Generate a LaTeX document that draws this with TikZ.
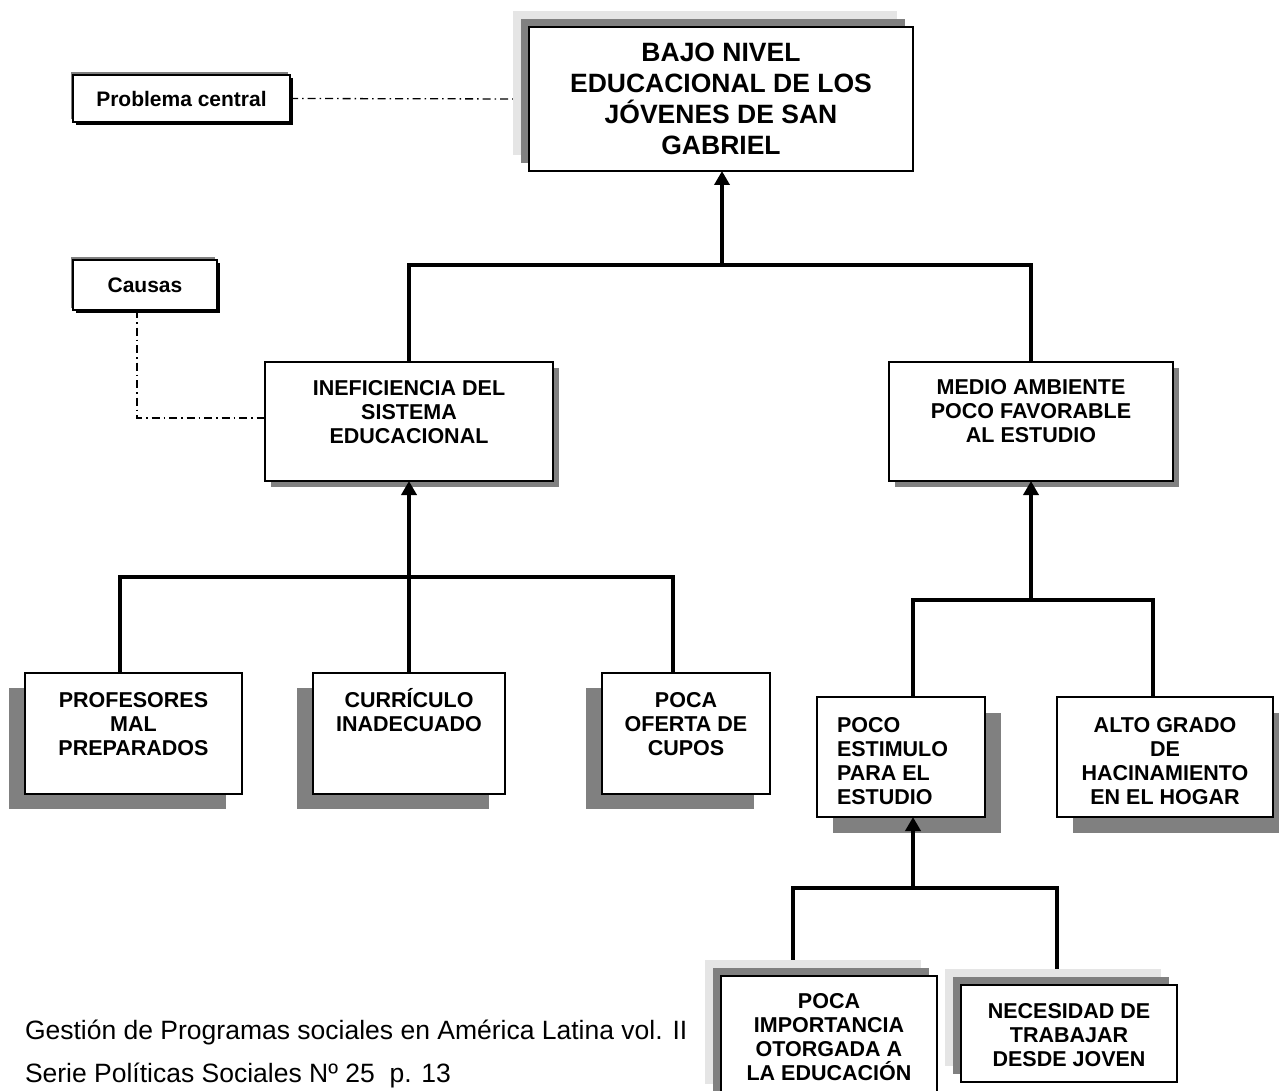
\documentclass[tikz,border=0pt]{standalone}
\usepackage{fontspec}
\setmainfont{Liberation Sans}
\usetikzlibrary{arrows.meta,shadows}
\definecolor{shadegray}{RGB}{128,128,128}
\definecolor{palegray}{RGB}{229,229,229}
\pgfdeclarelayer{back}
\pgfsetlayers{back,main}

\begin{document}
\begin{tikzpicture}[x=1pt,y=-1pt,
  box/.style={draw=black, fill=white, line width=2.4pt, inner sep=0pt, outer sep=0pt},
  tagbox/.style={draw=black, fill=white, line width=2pt, inner sep=0pt, outer sep=0pt,
    font=\fontsize{21}{25}\selectfont\bfseries,
    general shadow={fill=shadegray, shadow xshift=-2.5pt, shadow yshift=2.5pt},
    general shadow={fill=black, shadow xshift=3pt, shadow yshift=-3pt}},
  % shadow stacks used by the different box families
  stacked/.style={general shadow={fill=palegray, shadow xshift=-16pt, shadow yshift=16pt},
    general shadow={fill=shadegray, shadow xshift=-8pt, shadow yshift=8pt}},
  thinshadow/.style={general shadow={fill=shadegray, shadow xshift=5.5pt, shadow yshift=-5.5pt}},
  leftshadow/.style={general shadow={fill=shadegray, shadow xshift=-16pt, shadow yshift=-15pt}},
  rightshadow/.style={general shadow={fill=shadegray, shadow xshift=16pt, shadow yshift=-16pt}},
  ttl/.style={inner sep=0pt, outer sep=0pt, align=center, font=\fontsize{26.5}{31}\selectfont\bfseries},
  txt/.style={inner sep=0pt, outer sep=0pt, align=center, font=\fontsize{21.5}{24}\selectfont\bfseries},
  foot/.style={inner sep=0pt, outer sep=0pt, font=\fontsize{26.5}{31}\selectfont},
  conn/.style={line width=3.5pt},
  arr/.style={line width=3.5pt, -{Triangle[width=15pt,length=14pt]}},
  note/.style={line width=1.3pt, dash pattern=on 8pt off 4pt on 1.5pt off 4pt}
]
\useasboundingbox (0,0) rectangle (1279,1091);

% ---- central problem ----
\node[box, stacked, minimum width=384pt, minimum height=144pt] (t) at (721,99) {};
\node[ttl, anchor=north] (t-txt) at ([yshift=-16pt]t.north)
  {BAJO NIVEL\\EDUCACIONAL DE LOS\\JÓVENES DE SAN\\GABRIEL};

% ---- side tags ----
\node[tagbox, minimum width=217pt, minimum height=47pt] (tag1) at (181.5,98.5) {Problema central};
\node[tagbox, minimum width=144pt, minimum height=50pt] (tag2) at (145,285) {Causas};

% ---- first level causes ----
\node[box, thinshadow, minimum width=288pt, minimum height=119pt] (a) at (409,421.5) {};
\node[txt, anchor=north] (a-txt) at ([yshift=-18pt]a.north)
  {INEFICIENCIA DEL\\SISTEMA\\EDUCACIONAL};
\node[box, thinshadow, minimum width=284pt, minimum height=119pt] (b) at (1031,421.5) {};
\node[txt, anchor=north] (b-txt) at ([yshift=-17pt]b.north)
  {MEDIO AMBIENTE\\POCO FAVORABLE\\AL ESTUDIO};

% ---- causes of the education system ----
\node[box, leftshadow, minimum width=217pt, minimum height=121pt] (a1) at (133.5,733.5) {};
\node[txt, anchor=north] (a1-txt) at ([yshift=-19pt]a1.north)
  {PROFESORES\\MAL\\PREPARADOS};
\node[box, leftshadow, minimum width=192pt, minimum height=121pt] (a2) at (409,733.5) {};
\node[txt, anchor=north] (a2-txt) at ([yshift=-19pt]a2.north)
  {CURR\smash{Í}CULO\\INADECUADO};
\node[box, leftshadow, minimum width=168pt, minimum height=121pt] (a3) at (686,733.5) {};
\node[txt, anchor=north] (a3-txt) at ([yshift=-19pt]a3.north)
  {POCA\\OFERTA DE\\CUPOS};

% ---- causes of the environment ----
\node[box, rightshadow, minimum width=168pt, minimum height=120pt] (b1) at (901,757) {};
\node[txt, align=left, anchor=north west] (b1-txt) at ([xshift=20pt,yshift=-20pt]b1.north west)
  {POCO\\ESTIMULO\\PARA EL\\ESTUDIO};
\node[box, rightshadow, minimum width=216pt, minimum height=120pt] (b2) at (1165,757) {};
\node[txt, anchor=north] (b2-txt) at ([yshift=-20pt]b2.north)
  {ALTO GRADO\\DE\\HACINAMIENTO\\EN EL HOGAR};

% ---- causes of the low stimulus ----
\node[box, stacked, minimum width=216pt, minimum height=124pt] (c1) at (829,1038) {};
\node[txt, anchor=north] (c1-txt) at ([yshift=-17pt]c1.north)
  {POCA\\IMPORTANCIA\\OTORGADA A\\LA EDUCACIÓN};
\node[box, stacked, minimum width=216pt, minimum height=97pt] (c2) at (1069,1033.5) {};
\node[txt, anchor=north] (c2-txt) at ([yshift=-18pt]c2.north)
  {NECESIDAD DE\\TRABAJAR\\DESDE JOVEN};

% ---- source ----
\node[foot, anchor=base west] (src1) at (25,1039) {Gestión de Programas sociales en América Latina vol. II};
\node[foot, anchor=base west] (src2) at (25,1082) {Serie Políticas Sociales Nº 25\ \ p. 13};

% ---- junctions ----
\coordinate (j0) at (722,265);
\coordinate (j1) at (409,577);
\coordinate (j2) at (1031,600);
\coordinate (j3) at (913,888);

% ---- connectors over the shadows ----
\draw[conn] (a.north) |- (j0) -| (b.north);
\draw[arr] (j0) -- (j0 |- t.south);

\draw[conn] ([xshift=-13.5pt]a1.north) |- (j1) -| ([xshift=-13pt]a3.north);
\draw[arr] (a2.north) -- (a.south);

\draw[conn] ([xshift=12pt]b1.north) |- (j2) -| ([xshift=-12pt]b2.north);
\draw[arr] (j2) -- (b.south);

\draw[arr] (j3) -- (j3 |- b1.south);
\draw[note] ([xshift=-8pt]tag2.south) |- ([yshift=3.5pt]a.west);

% ---- connectors tucked under the stacked shadows ----
\begin{pgfonlayer}{back}
  \draw[conn] ([xshift=-36pt]c1.north) |- (j3) -| ([xshift=-12pt]c2.north);
  \draw[note] (tag1.east) -- (t.west);
\end{pgfonlayer}
\end{tikzpicture}
\end{document}
